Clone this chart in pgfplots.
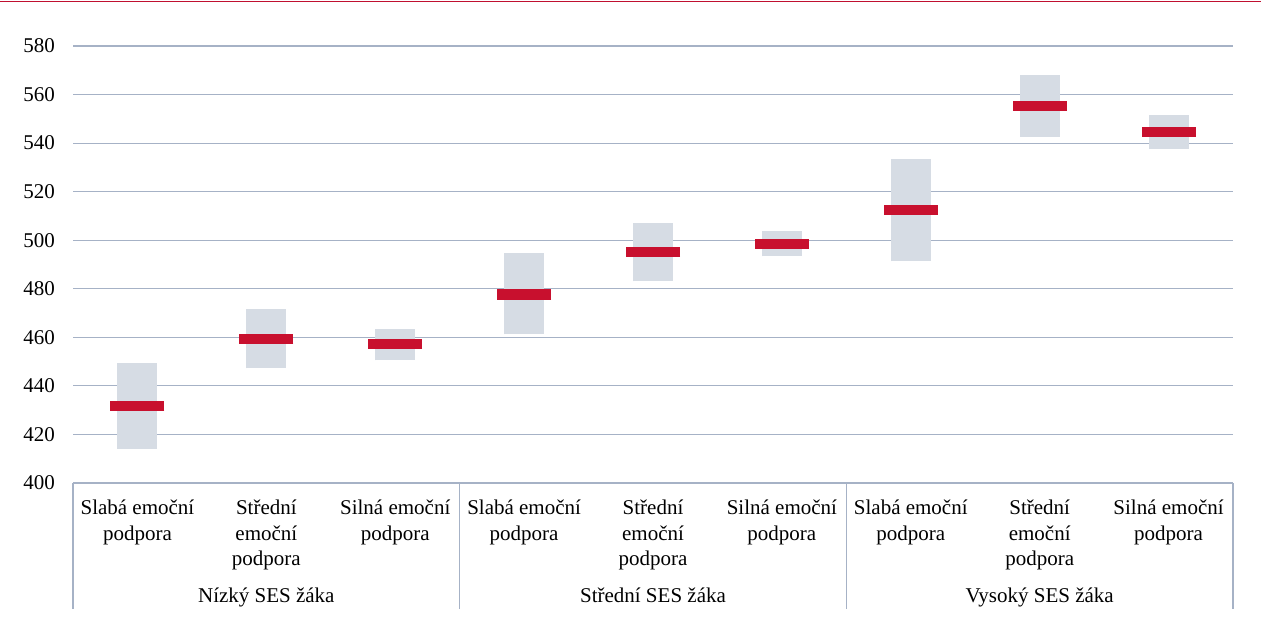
\documentclass[border=0pt]{standalone}
\usepackage{fontspec}
\setmainfont{Liberation Serif}
\usepackage{pgfplots}
\pgfplotsset{compat=1.18}
\usepackage{pgfplotstable}
\usetikzlibrary{plotmarks}
\definecolor{gridc}{RGB}{166,178,198}
\definecolor{boxc}{RGB}{214,220,228}
\definecolor{meanc}{RGB}{200,16,46}
\definecolor{topc}{RGB}{192,16,48}

\pgfplotstableread{
x low high mean
0 414.2 449.3 431.7
1 447.2 471.5 459.4
2 450.5 463.5 457.2
3 461.2 494.6 477.7
4 483.0 507.0 495.1
5 493.3 503.6 498.5
6 491.3 533.6 512.5
7 542.6 567.9 555.3
8 537.5 551.7 544.6
}\data

\begin{document}
\begin{tikzpicture}
\useasboundingbox (-36.5pt,-69pt) rectangle (594pt,241.5pt);
\draw[topc, line width=0.6pt] (-36.5pt,240.8pt) -- (594pt,240.8pt);
\begin{axis}[
  at={(0,0)}, anchor=south west,
  scale only axis, width=580pt, height=218.5pt,
  xmin=-0.5, xmax=8.5, ymin=400, ymax=580,
  ytick={400,420,...,580},
  xtick={0,...,8},
  xticklabels={{Slabá emoční\\podpora},{Střední\\emoční\\podpora},{Silná emoční\\podpora},
               {Slabá emoční\\podpora},{Střední\\emoční\\podpora},{Silná emoční\\podpora},
               {Slabá emoční\\podpora},{Střední\\emoční\\podpora},{Silná emoční\\podpora}},
  xtick pos=bottom, ytick pos=left,
  axis line style={draw=none},
  ymajorgrids, grid style={gridc, line width=0.6pt},
  major tick length=0pt,
  extra x ticks={-0.5,2.5,5.5,8.5},
  extra x tick labels={},
  extra x tick style={major tick length=63pt, tick align=outside, tick style={gridc, line width=0.6pt}, xmajorgrids=false},
  xticklabel style={font=\fontsize{10.5}{12.7}\selectfont, align=center, anchor=north, yshift=-5pt},
  yticklabel style={font=\fontsize{10.5}{12.5}\selectfont, xshift=-5.5pt},
  /pgf/number format/assume math mode=true,
  clip=false,
]
\addplot[draw=none, no markers,
  error bars/.cd, y dir=plus, y explicit, error mark=none,
  error bar style={line width=20pt, draw=boxc, solid}]
  table[x=x, y=low, y error expr=\thisrow{high}-\thisrow{low}] {\data};
\addplot[meanc, only marks, mark=-, mark size=13.5pt, mark options={line width=5.2pt}]
  table[x=x, y=mean] {\data};
\node[font=\fontsize{10.5}{12.5}\selectfont, anchor=base] at (axis cs:1,400) [yshift=-59.5pt] {Nízký SES žáka};
\node[font=\fontsize{10.5}{12.5}\selectfont, anchor=base] at (axis cs:4,400) [yshift=-59.5pt] {Střední SES žáka};
\node[font=\fontsize{10.5}{12.5}\selectfont, anchor=base] at (axis cs:7,400) [yshift=-59.5pt] {Vysoký SES žáka};
\end{axis}
\end{tikzpicture}
\end{document}
